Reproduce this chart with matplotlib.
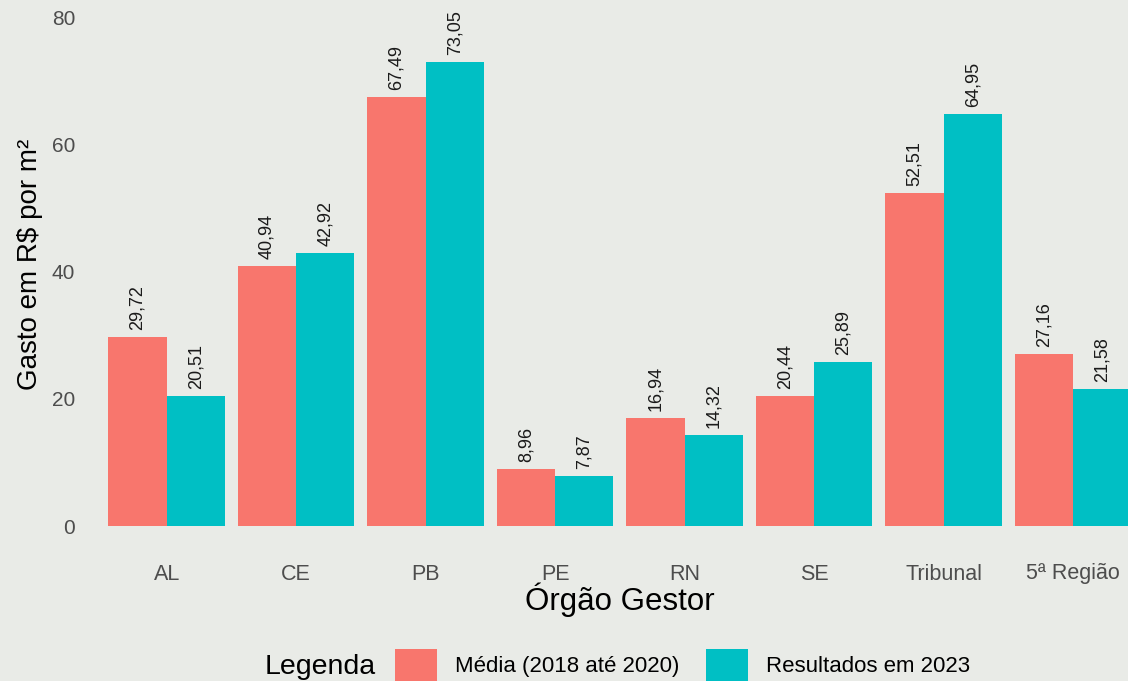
import numpy as np
import matplotlib.pyplot as plt

# dados
orgaos = ['AL', 'CE', 'PB', 'PE', 'RN', 'SE', 'Tribunal', '5ª Região']
media_2018_2020 = [29.72, 40.94, 67.49, 8.96, 16.94, 20.44, 52.51, 27.16]
resultados_2023 = [20.51, 42.92, 73.05, 7.87, 14.32, 25.89, 64.95, 21.58]

cor_media = '#F8766D'
cor_2023 = '#00BFC4'
fundo = '#e9ebe7'

plt.rcParams['font.family'] = ['Liberation Sans', 'DejaVu Sans']

fig = plt.figure(figsize=(11.28, 6.81), dpi=100, facecolor=fundo)
W, H = 1128, 681
ax = fig.add_axes([89 / W, 1 - 526 / H, 1 - 89 / W, 526 / H])
ax.set_facecolor('none')

x = np.arange(len(orgaos))
w = 0.45
b1 = ax.bar(x - w / 2, media_2018_2020, w, color=cor_media, label='Média (2018 até 2020)')
b2 = ax.bar(x + w / 2, resultados_2023, w, color=cor_2023, label='Resultados em 2023')

fmt = lambda v: f'{v:.2f}'.replace('.', ',')
for cont, vals in ((b1, media_2018_2020), (b2, resultados_2023)):
    ax.bar_label(cont, labels=[fmt(v) for v in vals], rotation=90, padding=5,
                 fontsize=13, color='#1a1a1a')

ax.set_xlim(-0.6, 7.425)
ax.set_ylim(0, 82.83)
ax.set_yticks([0, 20, 40, 60, 80])
ax.set_xticks(x)
ax.set_xticklabels(orgaos)
ax.tick_params(axis='y', length=0, pad=10, labelsize=15, labelcolor='#4d4d4d')
ax.tick_params(axis='x', length=0, pad=27, labelsize=15.5, labelcolor='#4d4d4d')
for s in ax.spines.values():
    s.set_visible(False)

ax.set_xlabel('Órgão Gestor', fontsize=22.5, va='center')
ax.xaxis.set_label_coords((620 - 89) / (W - 89), -74 / 526)
ax.set_ylabel('Gasto em R$ por m²', fontsize=20, va='center')
ax.yaxis.set_label_coords((30 - 89) / (W - 89), (526 - 264) / 526)

# legenda embaixo
fig.text(265 / W, 1 - 667 / H, 'Legenda', fontsize=20.5, va='center', ha='left')
fs = 16
em = fs * 100 / 72
fig.legend(handles=[b1, b2], ncol=2, frameon=False, loc='upper left',
           bbox_to_anchor=(395 / W, 1 - 649 / H), borderpad=0, borderaxespad=0,
           fontsize=fs, handlelength=42 / em, handleheight=42 / em,
           handletextpad=18 / em, columnspacing=1.2)

fig.savefig('out.png', dpi=100, facecolor=fundo)
